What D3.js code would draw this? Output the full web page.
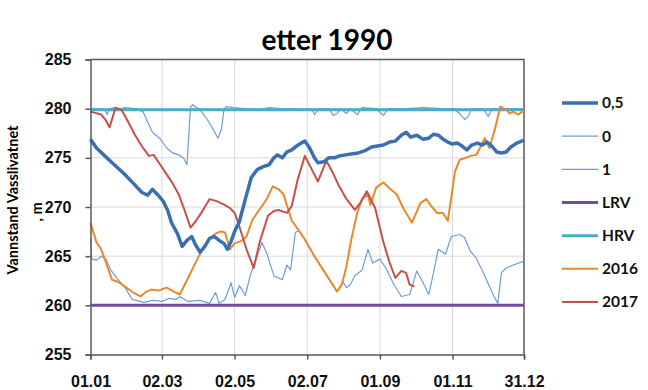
<!DOCTYPE html>
<html>
<head>
<meta charset="utf-8">
<script src="https://cdn.jsdelivr.net/npm/d3@7"></script>
<style>
  body { margin: 0; background: #fff; }
  svg { font-family: Lato, "Open Sans", sans-serif; font-weight: 700; }
  .grid line { stroke: #d9d9d9; stroke-width: 1; }
  .axis path, .axis line { stroke: #595959; stroke-width: 1.5; }
  .axis text { font-size: 16px; fill: #111; font-weight: 700; }
</style>
</head>
<body>
<svg id="chart" width="648" height="390"></svg>
<script>
// x in day of year, y in m
const xTicks = [0, 60, 121, 182, 243, 304, 364]
const xTickLabels = ["01.01", "02.03", "02.05", "02.07", "01.09", "01.11", "31.12"]
const yTicks = [255, 260, 265, 270, 275, 280, 285]

const seriesNames = ["0,5", "0", "1", "LRV", "HRV", "2016", "2017"]
const seriesColors = ["#3b6fb0", "#6d9fd6", "#6d9fd6", "#6f4f9c", "#4aacc5", "#e8892c", "#c8504c"]
const seriesWidths = [3.5, 1.2, 1.2, 3, 3, 2, 2]

const median = [[0,276.9],[5,276.0],[12,275.2],[20,274.3],[28,273.4],[36,272.4],[43,271.5],[48,271.2],[52,271.8],[56,271.3],[61,270.6],[65,269.6],[68,268.4],[73,267.3],[77,266.0],[81,266.6],[85,267.0],[88,266.2],[92,265.4],[96,266.0],[100,266.8],[104,267.0],[108,266.6],[112,266.3],[115,265.7],[118,266.5],[121,267.5],[125,268.5],[130,270.8],[135,273.0],[140,273.8],[145,274.1],[150,274.3],[154,275.0],[157,275.3],[161,275.0],[165,275.6],[169,275.8],[173,276.2],[177,276.5],[180,276.7],[184,276.0],[188,275.0],[191,274.5],[196,274.6],[200,275.0],[205,275.0],[209,275.2],[214,275.3],[219,275.4],[225,275.5],[230,275.7],[236,276.1],[241,276.2],[246,276.3],[251,276.6],[256,276.7],[261,277.3],[265,277.6],[269,277.1],[274,277.3],[279,276.9],[284,277.0],[288,277.4],[292,277.3],[296,276.9],[300,276.6],[304,276.4],[308,276.5],[312,276.2],[316,275.8],[320,276.3],[325,276.5],[329,276.3],[333,276.6],[337,276.2],[341,275.6],[345,275.5],[349,275.6],[353,276.1],[358,276.5],[364,276.8]]

const low = [[0,266.8],[1,264.7],[5,264.6],[9,265.0],[13,264.7],[17,263.6],[22,262.8],[29,261.8],[35,260.6],[45,260.3],[52,260.5],[60,260.4],[66,260.7],[72,260.6],[75,260.9],[82,260.4],[92,260.5],[100,260.2],[105,261.3],[108,260.2],[113,260.6],[118,262.3],[121,260.8],[125,262.0],[130,261.0],[134,263.0],[138,264.3],[144,266.4],[148,265.3],[154,263.0],[161,262.6],[165,264.1],[168,263.6],[172,267.4],[175,267.6],[180,266.7],[188,265.0],[197,263.3],[207,261.4],[212,262.4],[215,261.8],[218,262.1],[222,263.0],[228,263.6],[233,265.7],[237,264.3],[243,264.7],[248,263.8],[254,262.3],[261,260.9],[268,261.1],[274,263.5],[278,262.6],[284,261.1],[288,263.3],[292,265.7],[298,265.2],[303,267.0],[310,267.2],[314,266.9],[319,265.5],[324,264.8],[331,263.0],[338,261.1],[342,260.2],[345,263.3],[349,263.8],[355,264.1],[364,264.5]]

const high = [[0,280.0],[8,280.0],[12,279.9],[14,279.4],[16,280.0],[20,280.1],[25,279.9],[28,280.1],[38,280.0],[44,279.7],[52,277.6],[58,277.0],[64,276.0],[69,275.5],[74,275.3],[78,275.0],[81,274.3],[84,280.2],[86,280.4],[92,279.9],[98,278.9],[103,277.9],[107,277.0],[110,277.9],[112,279.9],[114,280.2],[120,280.1],[130,280.0],[140,279.9],[150,280.1],[160,280.0],[170,280.0],[180,279.9],[186,280.0],[188,279.4],[192,280.0],[200,280.0],[204,279.3],[207,279.5],[210,280.0],[215,279.5],[218,280.0],[224,279.4],[228,280.1],[240,280.0],[246,279.3],[250,280.0],[265,280.0],[280,280.1],[295,280.0],[305,280.0],[310,279.5],[314,278.9],[317,279.2],[320,280.0],[330,280.0],[334,279.2],[337,280.0],[345,280.0],[355,280.0],[364,280.0]]

const lrv = [[0,260],[364,260]]
const hrv = [[0,279.9],[364,279.9]]

const y2016 = [[0,268.4],[5,266.4],[9,265.7],[14,264.0],[18,262.6],[23,262.4],[30,261.8],[36,261.3],[42,260.9],[47,261.4],[51,261.6],[57,261.5],[64,261.8],[70,261.4],[75,261.1],[82,262.8],[91,265.0],[99,266.7],[105,267.3],[109,267.5],[113,267.4],[117,265.7],[121,266.3],[126,266.5],[131,267.0],[136,268.7],[144,270.1],[148,270.8],[153,272.1],[158,271.8],[162,271.3],[169,268.6],[175,267.6],[180,266.7],[188,265.0],[197,263.3],[207,261.4],[211,262.1],[215,264.0],[219,266.7],[224,269.4],[228,270.8],[233,271.3],[235,270.2],[240,272.0],[246,272.5],[251,271.9],[257,271.3],[263,269.8],[270,268.4],[277,270.4],[282,270.8],[286,270.1],[291,269.4],[296,269.4],[300,268.6],[303,271.0],[306,273.6],[310,274.8],[315,275.0],[319,275.2],[324,275.3],[327,276.0],[331,277.0],[335,276.0],[340,278.1],[344,280.2],[349,279.9],[352,279.5],[355,279.7],[359,279.4],[364,279.8]]

const y2017 = [[0,279.7],[9,279.4],[13,278.8],[16,278.1],[21,280.1],[26,279.9],[31,278.8],[37,277.4],[43,276.2],[49,275.2],[53,275.3],[58,274.4],[63,273.5],[69,272.4],[74,271.3],[78,270.0],[82,268.6],[84,267.9],[88,268.5],[93,269.4],[97,270.2],[100,270.8],[106,270.6],[113,270.2],[117,269.9],[121,269.4],[124,268.4],[131,265.7],[137,263.8],[142,266.4],[149,269.1],[154,269.6],[158,269.7],[165,269.4],[169,270.1],[174,272.8],[180,275.2],[185,274.0],[191,272.6],[198,274.7],[203,273.6],[208,272.3],[215,270.8],[222,269.7],[227,270.5],[232,271.6],[239,269.9],[246,266.4],[251,264.4],[256,262.8],[261,263.5],[265,263.3],[268,262.1],[272,261.9]]

const seriesData = [median, low, high, lrv, hrv, y2016, y2017]
// drawing order: low, high, lrv, hrv, 2016, 2017, median on top
const drawOrder = [1, 2, 3, 4, 5, 6, 0]

let svg = d3.select("#chart")

let x = d3.scaleLinear().domain([0, 364]).range([90.5, 524])
let y = d3.scaleLinear().domain([255, 285]).range([354.5, 59.5])

// grid
let grid = svg.append("g").attr("class", "grid")
grid.selectAll(".gx").data(xTicks.slice(1, -1)).enter().append("line")
  .attr("x1", d => x(d)).attr("x2", d => x(d))
  .attr("y1", y(285)).attr("y2", y(255))
grid.selectAll(".gy").data(yTicks.slice(1, -1)).enter().append("line")
  .attr("x1", x(0)).attr("x2", x(364))
  .attr("y1", d => y(d)).attr("y2", d => y(d))

// plot border (top + right)
svg.append("path")
  .attr("d", `M${x(0)},${y(285)}H${x(364)}V${y(255)}`)
  .attr("fill", "none").attr("stroke", "#595959").attr("stroke-width", 1.5)

// lines
let line = d3.line().x(d => x(d[0])).y(d => y(d[1]))
let lines = svg.append("g")
drawOrder.forEach(function (i) {
  lines.append("path")
    .datum(seriesData[i])
    .attr("d", line)
    .attr("fill", "none")
    .attr("stroke", seriesColors[i])
    .attr("stroke-width", seriesWidths[i])
    .attr("stroke-linejoin", "round")
})

// axes
let xAxis = d3.axisBottom(x).tickValues(xTicks).tickFormat((d, i) => xTickLabels[i]).tickSize(5).tickPadding(16)
let yAxis = d3.axisLeft(y).tickValues(yTicks).tickSize(5).tickPadding(14)
svg.append("g").attr("class", "axis")
  .attr("transform", `translate(0,${y(255)})`)
  .call(xAxis)
svg.append("g").attr("class", "axis")
  .attr("transform", `translate(${x(0)},0)`)
  .call(yAxis)

// title
svg.append("text")
  .attr("x", 327).attr("y", 50)
  .attr("text-anchor", "middle")
  .attr("font-size", 28)
  .attr("fill", "#000")
  .text("etter 1990")

// y label
svg.append("text")
  .attr("transform", "translate(18,200) rotate(-90)")
  .attr("text-anchor", "middle")
  .attr("font-size", 14.5)
  .text("Vannstand Vasslivatnet")
svg.append("text")
  .attr("transform", "translate(42,212) rotate(-90)")
  .attr("text-anchor", "middle")
  .attr("font-size", 14.5)
  .text(", m")

// legend
let ly = d3.scalePoint().domain(seriesNames).range([103, 302])
let legend = svg.append("g")
seriesNames.forEach(function (d, i) {
  let g = legend.append("g").attr("transform", `translate(562,${ly(d)})`)
  g.append("line").attr("x1", 0).attr("x2", 36)
    .attr("stroke", seriesColors[i])
    .attr("stroke-width", seriesWidths[i])
  g.append("text").attr("x", 40).attr("dy", "0.35em")
    .attr("font-size", 15.5).attr("fill", "#111").text(d)
})
</script>
</body>
</html>
